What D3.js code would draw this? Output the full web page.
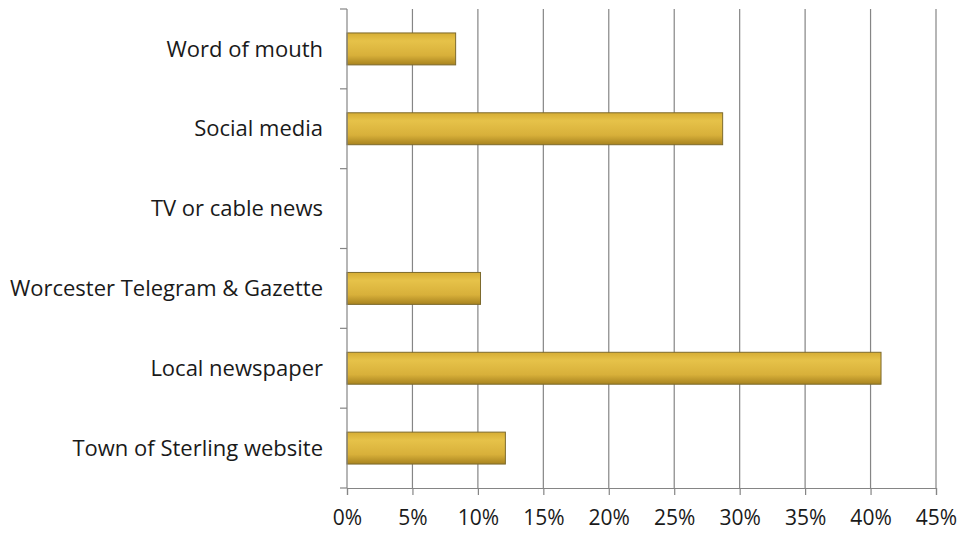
<!DOCTYPE html>
<html>
<head>
<meta charset="utf-8">
<script src="https://cdn.jsdelivr.net/npm/d3@7"></script>
<style>
  body { margin: 0; background: #fff; }
  text { font-family: "Open Sans", Lato, sans-serif; fill: #1a1a1a; }
</style>
</head>
<body>
<div id="chart"></div>
<script>
// data
const categories = ["Word of mouth", "Social media", "TV or cable news",
    "Worcester Telegram & Gazette", "Local newspaper", "Town of Sterling website"];
const values = [8.3, 28.7, 0, 10.2, 40.8, 12.1];
const xTicks = [0, 5, 10, 15, 20, 25, 30, 35, 40, 45];

const margin = {top: 9, right: 35, bottom: 45, left: 347},
    width = 971 - margin.left - margin.right,
    height = 533 - margin.top - margin.bottom;

const svg = d3.select("#chart")
    .append("svg")
    .attr("width", 971)
    .attr("height", 533)
    .append("g")
    .attr("transform", `translate(${margin.left},${margin.top})`);

// gradient for bars
const grad = svg.append("defs").append("linearGradient")
    .attr("id", "gold")
    .attr("x1", 0).attr("y1", 0).attr("x2", 0).attr("y2", 1);
grad.append("stop").attr("offset", "0%").attr("stop-color", "#d6ad34");
grad.append("stop").attr("offset", "25%").attr("stop-color", "#e6c249");
grad.append("stop").attr("offset", "70%").attr("stop-color", "#d8b03a");
grad.append("stop").attr("offset", "100%").attr("stop-color", "#a8831f");

// scales
const x = d3.scaleLinear().domain([0, 45]).range([0, width]);
const y = d3.scaleBand().domain(categories).range([0, height]).paddingInner(0.6).paddingOuter(0.3);

// gridlines
svg.selectAll(".grid")
    .data(xTicks.slice(1))
    .enter()
    .append("line")
    .attr("x1", d => x(d)).attr("x2", d => x(d))
    .attr("y1", 0).attr("y2", height)
    .attr("stroke", "#858585")
    .attr("stroke-width", 1.2);

// bars
svg.selectAll(".bar")
    .data(categories)
    .enter()
    .append("rect")
    .attr("x", 0)
    .attr("y", d => y(d))
    .attr("width", (d, i) => x(values[i]))
    .attr("height", y.bandwidth())
    .attr("fill", "url(#gold)")
    .attr("stroke", (d, i) => values[i] > 0 ? "#7d6a2c" : "none")
    .attr("stroke-width", 1);

// x axis
const xAxis = svg.append("g")
    .attr("transform", `translate(0,${height})`)
    .call(d3.axisBottom(x).tickValues(xTicks).tickFormat(d => d + "%").tickSize(7).tickPadding(15));
xAxis.selectAll("line, path").attr("stroke", "#858585").attr("stroke-width", 1.2);
xAxis.selectAll("text").style("font-size", "21px").attr("fill", "#1a1a1a");

// y axis with ticks at band boundaries
const yAxis = svg.append("g");
yAxis.append("line")
    .attr("x1", 0).attr("x2", 0).attr("y1", 0).attr("y2", height)
    .attr("stroke", "#858585").attr("stroke-width", 1.2);
const step = height / categories.length;
yAxis.selectAll(".ylabel-tick")
    .data(d3.range(categories.length + 1))
    .enter()
    .append("line")
    .attr("x1", -7).attr("x2", 0)
    .attr("y1", d => d * step).attr("y2", d => d * step)
    .attr("stroke", "#858585").attr("stroke-width", 1.2);
yAxis.selectAll(".ylabel")
    .data(categories)
    .enter()
    .append("text")
    .attr("x", -24)
    .attr("y", d => y(d) + y.bandwidth() / 2)
    .attr("dy", "0.35em")
    .attr("text-anchor", "end")
    .style("font-size", "22px")
    .text(d => d);
</script>
</body>
</html>
